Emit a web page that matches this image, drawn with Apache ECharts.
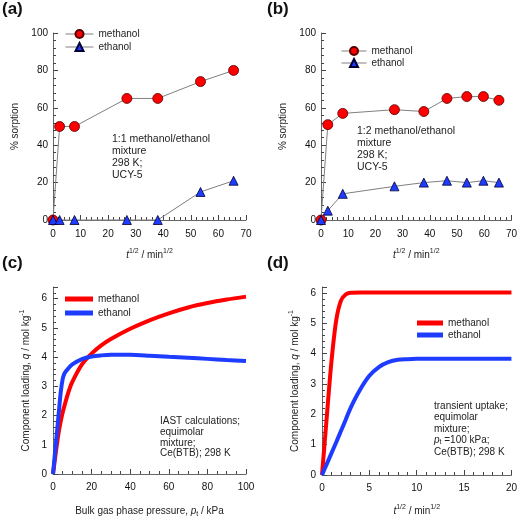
<!DOCTYPE html>
<html><head><meta charset="utf-8">
<script src="https://cdn.jsdelivr.net/npm/echarts@6/dist/echarts.min.js"></script>
<style>html,body{margin:0;padding:0;background:#fff}#c{width:520px;height:519px}</style>
</head><body><div id="c"></div>
<script>
// Panel (a): 1:1 mixture, UCY-5
const aTime = [0, 2.4, 7.8, 26.8, 38, 53.5, 65.5];
const aMethanol = [0, 50, 50, 65, 65, 74, 80];
const aEthanol = [0, 0, 0, 0, 0, 15, 21];
// Panel (b): 1:2 mixture, UCY-5
const bTime = [0, 2.5, 8, 27, 37.8, 46.3, 53.6, 59.7, 65.4];
const bMethanol = [0, 51, 57, 59, 58, 65, 66, 66, 64];
const bEthanol = [0, 5, 14, 18, 20, 21, 20, 21, 20];
// Panel (c): IAST
const cPressure = [0, 1, 2, 3, 4, 5, 6, 8, 10, 15, 20, 25, 30, 40, 50, 60, 70, 80, 90, 100];
const cMethanol = [0, 0.5, 1.0, 1.45, 1.8, 2.1, 2.35, 2.8, 3.15, 3.75, 4.12, 4.4, 4.62, 4.97, 5.26, 5.5, 5.7, 5.85, 5.97, 6.07];
const cEthanol = [0, 0.7, 1.4, 2.1, 2.8, 3.25, 3.45, 3.62, 3.75, 3.93, 4.02, 4.06, 4.08, 4.08, 4.05, 4.01, 3.98, 3.94, 3.9, 3.87];
// Panel (d): transient uptake
const dTime = [0, 0.5, 1, 1.5, 2, 2.5, 3, 4, 5, 6, 7, 8, 9, 10, 12, 15, 20];
const dMethanol = [0, 1.9, 3.75, 5.1, 5.75, 5.95, 6.01, 6.02, 6.02, 6.02, 6.02, 6.02, 6.02, 6.02, 6.02, 6.02, 6.02];
const dEthanol = [0, 0.36, 0.72, 1.08, 1.45, 1.82, 2.2, 2.8, 3.27, 3.56, 3.72, 3.8, 3.82, 3.83, 3.83, 3.83, 3.83];

const FONT = '"Liberation Sans", Arial, sans-serif';
const zip = (xs, ys) => xs.map((x, i) => [x, ys[i]]);
const RED = '#ff0000', BLUE = '#1e3cff', AX = '#444';

const tStyle = {
  fontSize: 10, fontFamily: FONT, color: '#222', lineHeight: 14,
  rich: {
    i: {fontStyle: 'italic', fontSize: 10, fontFamily: FONT, color: '#222', lineHeight: 14},
    s: {fontSize: 7, fontFamily: FONT, color: '#222', verticalAlign: 'top', lineHeight: 14, padding: [0, 0, 5, 0]},
    n: {fontSize: 10, fontFamily: FONT, color: '#222', lineHeight: 14}
  }
};
const tStyleSub = {
  fontSize: 10, fontFamily: FONT, color: '#222', lineHeight: 14,
  rich: {
    i: {fontStyle: 'italic', fontSize: 10, fontFamily: FONT, color: '#222', lineHeight: 14},
    b: {fontSize: 7, fontFamily: FONT, color: '#222', verticalAlign: 'bottom', lineHeight: 14, padding: [4, 0, 0, 0]},
    n: {fontSize: 10, fontFamily: FONT, color: '#222', lineHeight: 14}
  }
};

function axis(o) {
  const base = {
    type: 'value',
    axisLine: {show: true, onZero: false, lineStyle: {color: '#666'}},
    axisTick: {show: false},
    splitLine: {show: false},
    axisLabel: {fontSize: 10, fontFamily: FONT, color: '#111', margin: 5},
    nameLocation: 'middle',
    nameTextStyle: tStyle
  };
  return Object.assign(base, o);
}
// tick-only helper axis, minimal configuration
function tickAxis(gridIndex, position, min, max, interval, minorSplit) {
  return {
    type: 'value', gridIndex: gridIndex, position: position, offset: 0,
    min: min, max: max, interval: interval,
    axisLine: {show: false, onZero: false},
    axisLabel: {show: false},
    splitLine: {show: false},
    axisTick: {show: true, inside: true, length: 5, lineStyle: {color: AX, width: 1}},
    minorTick: {show: true, splitNumber: minorSplit, length: 3, lineStyle: {color: AX, width: 1}}
  };
}

const tName = '{i|t}{s|1/2}{n| / min}{s|1/2}';
const loadName = '{n|Component loading, }{i|q}{n| / mol kg}{s|-1}';
const legText = {fontSize: 10, fontFamily: FONT, color: '#222'};
const intLabel = v => Number.isInteger(v) ? String(v) : '';

const option = {
  animation: false,
  backgroundColor: '#fff',
  grid: [
    {left: 53, top: 33, width: 193, height: 187},
    {left: 321, top: 33, width: 193, height: 187},
    {left: 53, top: 287, width: 193, height: 189},
    {left: 322, top: 287, width: 192, height: 191}
  ],
  xAxis: [
    axis({gridIndex: 0, min: 0, max: 70, interval: 10, name: tName, nameGap: 28,
      axisLabel: {fontSize: 10, fontFamily: FONT, color: '#111', margin: 9}}),
    axis({gridIndex: 1, min: 0, max: 70, interval: 10, name: tName, nameGap: 28,
      axisLabel: {fontSize: 10, fontFamily: FONT, color: '#111', margin: 9}}),
    axis({gridIndex: 2, min: 0, max: 100, interval: 20, name: '{n|Bulk gas phase pressure, }{i|p}{b|t}{n| / kPa}',
      nameGap: 30, nameTextStyle: tStyleSub,
      axisLabel: {fontSize: 10, fontFamily: FONT, color: '#111', margin: 8}}),
    axis({gridIndex: 3, min: 0, max: 20, interval: 5, name: tName, nameGap: 29,
      axisLabel: {fontSize: 10, fontFamily: FONT, color: '#111', margin: 8}}),
    tickAxis(0, 'bottom', 0, 70, 10, 5),
    tickAxis(1, 'bottom', 0, 70, 10, 5),
    tickAxis(2, 'bottom', 0, 100, 20, 4),
    tickAxis(3, 'bottom', 0, 20, 5, 5)
  ],
  yAxis: [
    axis({gridIndex: 0, min: 0, max: 100, interval: 20, name: '% sorption', nameGap: 31}),
    axis({gridIndex: 1, min: 0, max: 100, interval: 20, name: '% sorption', nameGap: 31}),
    axis({gridIndex: 2, min: 0, max: 6.4, interval: 1, name: loadName, nameGap: 20,
      axisLabel: {fontSize: 10, fontFamily: FONT, color: '#111', margin: 6, formatter: intLabel}}),
    axis({gridIndex: 3, min: 0, max: 6.2, interval: 1, name: loadName, nameGap: 20,
      axisLabel: {fontSize: 10, fontFamily: FONT, color: '#111', margin: 6, formatter: intLabel}}),
    tickAxis(0, 'left', 0, 100, 20, 5),
    tickAxis(1, 'left', 0, 100, 20, 5),
    tickAxis(2, 'left', 0, 6.4, 1, 5),
    tickAxis(3, 'left', 0, 6.2, 1, 5)
  ],
  legend: [
    {orient: 'vertical', left: 65, top: 29, padding: 0, itemWidth: 28, itemHeight: 10, itemGap: 3,
      lineStyle: {color: '#808080', width: 1},
      textStyle: legText, data: ['a-methanol', 'a-ethanol'], formatter: n => n.slice(2)},
    {orient: 'vertical', left: 341, top: 46, padding: 0, itemWidth: 25, itemHeight: 10, itemGap: 2,
      lineStyle: {color: '#808080', width: 1},
      textStyle: legText, data: ['b-methanol', 'b-ethanol'], formatter: n => n.slice(2)},
    {orient: 'vertical', left: 65, top: 294, padding: 0, itemWidth: 28, itemHeight: 5, itemGap: 4,
      textStyle: legText, data: [{name: 'c-methanol', icon: 'rect'}, {name: 'c-ethanol', icon: 'rect'}],
      formatter: n => n.slice(2)},
    {orient: 'vertical', left: 417, top: 318, padding: 0, itemWidth: 26, itemHeight: 5, itemGap: 2,
      textStyle: legText, data: [{name: 'd-methanol', icon: 'rect'}, {name: 'd-ethanol', icon: 'rect'}],
      formatter: n => n.slice(2)}
  ],
  series: [
    {name: 'a-methanol', type: 'line', xAxisIndex: 0, yAxisIndex: 0, data: zip(aTime, aMethanol), clip: false,
      symbol: 'circle', symbolSize: 10, lineStyle: {color: '#808080', width: 1},
      itemStyle: {color: RED, borderColor: '#500', borderWidth: 0.8}},
    {name: 'a-ethanol', type: 'line', xAxisIndex: 0, yAxisIndex: 0, data: zip(aTime, aEthanol), clip: false,
      symbol: 'triangle', symbolSize: 9, lineStyle: {color: '#808080', width: 1},
      itemStyle: {color: BLUE, borderColor: '#003', borderWidth: 0.8}},
    {name: 'b-methanol', type: 'line', xAxisIndex: 1, yAxisIndex: 1, data: zip(bTime, bMethanol), clip: false,
      symbol: 'circle', symbolSize: 10, lineStyle: {color: '#808080', width: 1},
      itemStyle: {color: RED, borderColor: '#500', borderWidth: 0.8}},
    {name: 'b-ethanol', type: 'line', xAxisIndex: 1, yAxisIndex: 1, data: zip(bTime, bEthanol), clip: false,
      symbol: 'triangle', symbolSize: 9, lineStyle: {color: '#808080', width: 1},
      itemStyle: {color: BLUE, borderColor: '#003', borderWidth: 0.8}},
    {name: 'c-methanol', type: 'line', xAxisIndex: 2, yAxisIndex: 2, data: zip(cPressure, cMethanol),
      symbol: 'none', smooth: 0.3, lineStyle: {color: RED, width: 4}, itemStyle: {color: RED}},
    {name: 'c-ethanol', type: 'line', xAxisIndex: 2, yAxisIndex: 2, data: zip(cPressure, cEthanol),
      symbol: 'none', smooth: 0.3, lineStyle: {color: BLUE, width: 4}, itemStyle: {color: BLUE}},
    {name: 'd-methanol', type: 'line', xAxisIndex: 3, yAxisIndex: 3, data: zip(dTime, dMethanol),
      symbol: 'none', smooth: 0.3, lineStyle: {color: RED, width: 4}, itemStyle: {color: RED}},
    {name: 'd-ethanol', type: 'line', xAxisIndex: 3, yAxisIndex: 3, data: zip(dTime, dEthanol),
      symbol: 'none', smooth: 0.3, lineStyle: {color: BLUE, width: 4}, itemStyle: {color: BLUE}}
  ],
  graphic: [
    {type: 'text', left: 2, top: 1, style: {text: '(a)', font: 'bold 17px ' + FONT, fill: '#111'}},
    {type: 'text', left: 267, top: 1, style: {text: '(b)', font: 'bold 17px ' + FONT, fill: '#111'}},
    {type: 'text', left: 2, top: 255, style: {text: '(c)', font: 'bold 17px ' + FONT, fill: '#111'}},
    {type: 'text', left: 267, top: 255, style: {text: '(d)', font: 'bold 17px ' + FONT, fill: '#111'}},
    {type: 'text', left: 112, top: 133, style: {text: '1:1 methanol/ethanol\nmixture\n298 K;\nUCY-5',
      font: '10.5px ' + FONT, fill: '#222', lineHeight: 12}},
    {type: 'text', left: 357, top: 125, style: {text: '1:2 methanol/ethanol\nmixture\n298 K;\nUCY-5',
      font: '10.5px ' + FONT, fill: '#222', lineHeight: 12}},
    {type: 'text', left: 160, top: 416, style: {text: 'IAST calculations;\nequimolar\nmixture;\nCe(BTB); 298 K',
      font: '10px ' + FONT, fill: '#222', lineHeight: 10.7}},
    {type: 'text', left: 434, top: 400, style: {
      text: '{n|transient uptake;}\n{n|equimolar}\n{n|mixture;}\n{i|p}{b|t}{n| =100 kPa;}\n{n|Ce(BTB); 298 K}',
      fill: '#222', lineHeight: 11.5,
      rich: {
        n: {fontSize: 10, fontFamily: FONT, fill: '#222', lineHeight: 11.5},
        i: {fontSize: 10, fontFamily: FONT, fontStyle: 'italic', fill: '#222', lineHeight: 11.5},
        b: {fontSize: 7, fontFamily: FONT, fill: '#222', lineHeight: 11.5, verticalAlign: 'bottom', padding: [4, 0, 0, 0]}
      }}}
  ]
};
const chart = echarts.init(document.getElementById('c'), null, {renderer: 'canvas'});
chart.setOption(option);
</script></body></html>
